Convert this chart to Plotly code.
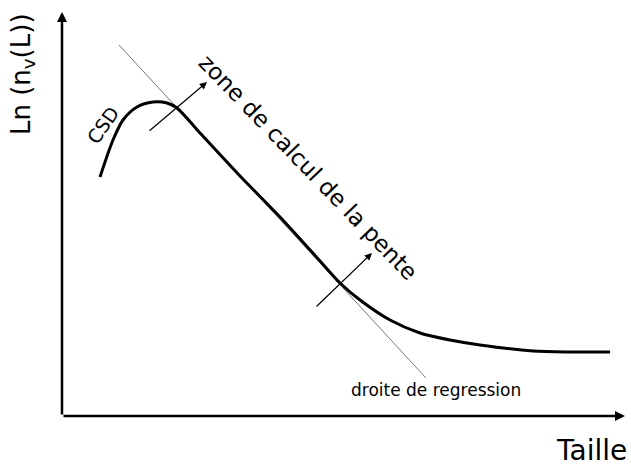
import plotly.graph_objects as go

# CSD curve (taille, ln n_v(L)) - schematic units, origin at axis corner
taille = [38, 51, 61, 75, 91, 105, 115, 138, 178, 218, 258, 278, 298, 328, 358, 388, 418, 471, 508, 548]
ln_nv = [239, 276, 296, 309, 314, 313, 308, 283, 240, 199, 155, 133, 116, 96, 83, 76, 71, 65, 64, 64]

# droite de regression (two end points)
reg_x = [57, 364]
reg_y = [371, 38]

# arrows marking the slope zone (tail -> head)
zone_tail_x = [86, 253]
zone_tail_y = [284, 108]
zone_head_x = [145, 310]
zone_head_y = [334, 163]

FONT = "DejaVu Sans"

fig = go.Figure()

fig.add_trace(go.Scatter(x=reg_x, y=reg_y, mode="lines",
                         line=dict(color="rgb(120,120,120)", width=1),
                         showlegend=False, hoverinfo="skip"))
fig.add_trace(go.Scatter(x=taille, y=ln_nv, mode="lines",
                         line=dict(color="black", width=3, shape="spline", smoothing=0.8),
                         showlegend=False, hoverinfo="skip"))

# axes drawn as arrows
fig.add_annotation(x=0, y=404, ax=0, ay=0, xref="x", yref="y", axref="x", ayref="y",
                   text="", showarrow=True, arrowhead=2, arrowsize=0.8, arrowwidth=2.5,
                   arrowcolor="black")
fig.add_annotation(x=563, y=0, ax=0, ay=0, xref="x", yref="y", axref="x", ayref="y",
                   text="", showarrow=True, arrowhead=2, arrowsize=0.8, arrowwidth=2.5,
                   arrowcolor="black")

for tx, ty, hx, hy in zip(zone_tail_x, zone_tail_y, zone_head_x, zone_head_y):
    fig.add_annotation(x=hx, y=hy, ax=tx, ay=ty, xref="x", yref="y", axref="x", ayref="y",
                       text="", showarrow=True, arrowhead=2, arrowsize=1.2, arrowwidth=1.2,
                       arrowcolor="black")

fig.add_annotation(x=246, y=249, text="zone de calcul de la pente", showarrow=False,
                   textangle=46, font=dict(family=FONT, size=23, color="black"))
fig.add_annotation(x=41, y=291, text="CSD", showarrow=False, textangle=-55,
                   font=dict(family=FONT, size=19, color="black"))
fig.add_annotation(x=374, y=26, text="droite de regression", showarrow=False,
                   font=dict(family=FONT, size=17, color="black"))
fig.add_annotation(x=529, y=-34, text="Taille", showarrow=False,
                   font=dict(family=FONT, size=28, color="black"))
fig.add_annotation(x=-40, y=342, text="Ln (n<sub>v</sub>(L))", showarrow=False,
                   textangle=-90, font=dict(family=FONT, size=26, color="black"))

fig.update_layout(
    width=631, height=466,
    margin=dict(l=0, r=0, t=0, b=0),
    paper_bgcolor="white", plot_bgcolor="white",
    xaxis=dict(range=[-62, 569], visible=False, fixedrange=True),
    yaxis=dict(range=[-50, 416], visible=False, fixedrange=True),
)

fig.write_html("out.html", config={"displayModeBar": False},
               post_script="document.body.style.margin='0';document.body.style.overflow='hidden';")
